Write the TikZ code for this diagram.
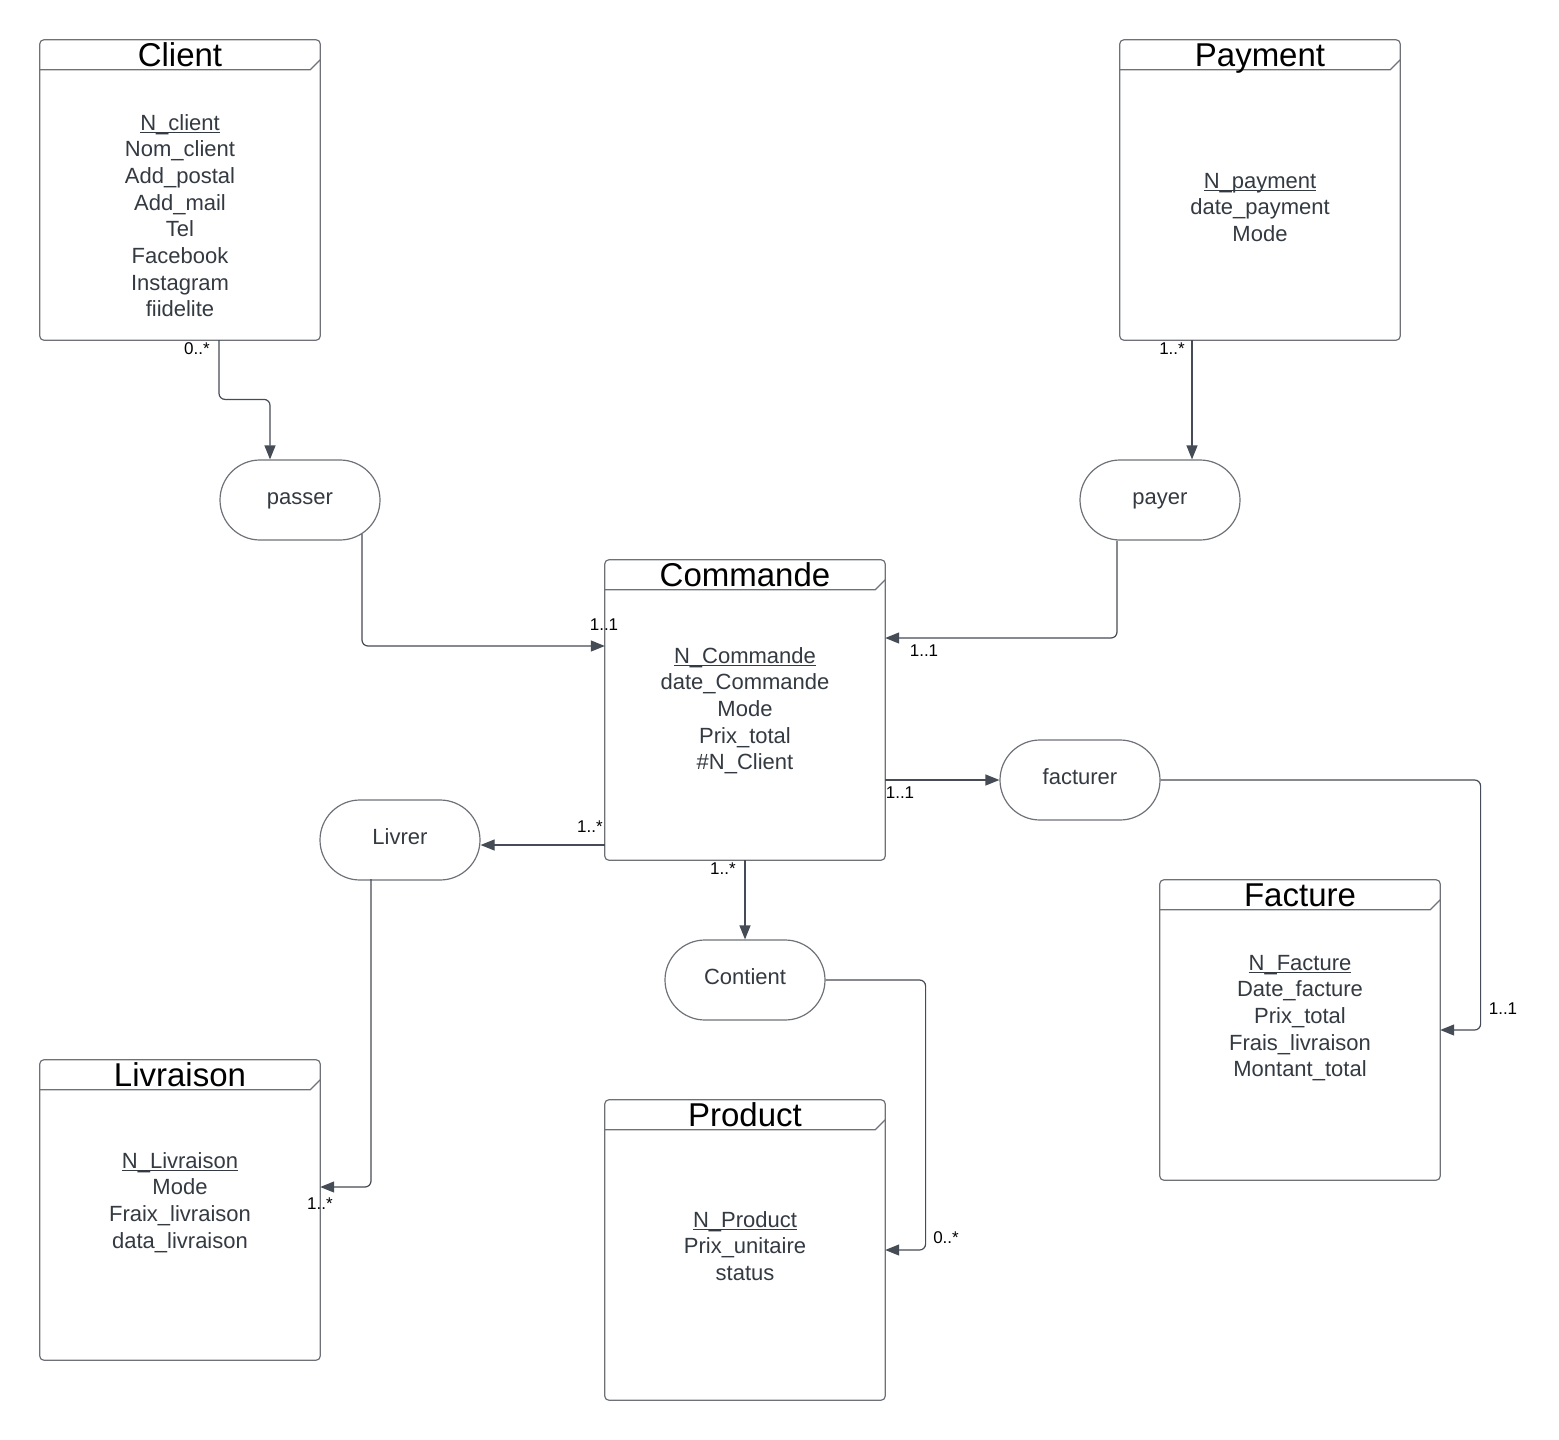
\documentclass[tikz,border=0pt]{standalone}
\usepackage{fontspec}
\setmainfont{Liberation Sans}
\usetikzlibrary{arrows.meta,calc}
\definecolor{edge}{RGB}{110,114,120}
\definecolor{wire}{RGB}{70,76,86}
\definecolor{ink}{RGB}{52,58,66}

% key attribute: underline sitting just under the baseline
\newcommand\ulkey[1]{\setbox0\hbox{#1}\rlap{\rule[-2.4pt]{\wd0}{1.1pt}}\box0}

\tikzset{
  ebox/.style={minimum width=280pt, minimum height=300pt, inner sep=0pt, draw=none},
  outline/.style={draw=edge, line width=1.2pt},
  etitle/.style={font=\fontsize{33}{36}\selectfont, text=black, anchor=base, inner sep=0pt},
  eattr/.style={font=\fontsize{22}{26}\selectfont, text=ink, anchor=base, inner sep=0pt},
  rel/.style={draw=edge, line width=1.2pt, rounded corners=40pt, minimum width=160pt,
    minimum height=80pt, inner sep=0pt, font=\fontsize{22}{26}\selectfont, text=ink,
    text height=16pt, text depth=8pt},
  conn/.style={draw=wire, line width=1.2pt, rounded corners=6pt, -{Triangle[length=14pt,width=11pt]}},
  card/.style={font=\fontsize{17}{19}\selectfont, text=black, inner sep=0pt},
}

% entity: name, left x, top y, title, first baseline offset, attribute lines
\newcommand\erentity[6]{%
  \node[ebox] (#1) at (#2+140,#3+150) {};
  \draw[outline, rounded corners=4pt] (#1.south west) -- (#1.north west) -- (#1.north east) -- (#1.south east) -- cycle;
  \draw[outline] ([yshift=-30pt]#1.north west) -- ([xshift=-10pt,yshift=-30pt]#1.north east) -- ([yshift=-20pt]#1.north east);
  \node[etitle] (#1-title) at ($(#1.north)+(0,27)$) {#4};
  \foreach \txt [count=\k from 0] in {#6}
    \node[eattr] (#1-a\k) at ($(#1.north)+(0,#5+2.5+26.65*\k)$) {\txt};
}

\begin{document}
\begin{tikzpicture}[x=1pt,y=-1pt]
\fill[white] (0,0) rectangle (1559,1440);
\useasboundingbox (0,0) rectangle (1559,1440);

% entities
\erentity{client}{40}{40}{Client}{88}{\ulkey{N\_client},Nom\_client,Add\_postal,Add\_mail,Tel,Facebook,Instagram,fiidelite}
\erentity{payment}{1120}{40}{Payment}{146}{\ulkey{N\_payment},date\_payment,Mode}
\erentity{commande}{605}{560}{Commande}{101}{\ulkey{N\_Commande},date\_Commande,Mode,Prix\_total,\#N\_Client}
\erentity{facture}{1160}{880}{Facture}{88}{\ulkey{N\_Facture},Date\_facture,Prix\_total,Frais\_livraison,Montant\_total}
\erentity{livraison}{40}{1060}{Livraison}{106}{\ulkey{N\_Livraison},Mode,Fraix\_livraison,data\_livraison}
\erentity{product}{605}{1100}{Product}{125}{\ulkey{N\_Product},Prix\_unitaire,status}

% associations
\node[rel] (passer) at (300,500) {passer};
\node[rel] (payer) at (1160,500) {payer};
\node[rel] (facturer) at (1080,780) {facturer};
\node[rel] (livrer) at (400,840) {Livrer};
\node[rel] (contient) at (745,980) {Contient};

% connectors
\draw[conn] ([xshift=39pt]client.south) |- ([xshift=-30pt,yshift=60pt]passer.north) -- ([xshift=-30pt]passer.north);
\draw[conn] ([xshift=62pt,yshift=6.6pt]passer.south) |- ([yshift=64pt]commande.west);
\draw[conn] ([xshift=-68pt]payment.south) -- ([xshift=32pt]payer.north);
\draw[conn] ([xshift=-43pt]payer.south) |- ([yshift=72pt]commande.east);
\draw[conn] ([yshift=-70pt]commande.east) -- (facturer.west);
\draw[conn] (facturer.east) -- ++(320,0) |- (facture.east);
\draw[conn] ([yshift=-135pt]commande.west) -- ([yshift=-5pt]livrer.east);
\draw[conn] ([xshift=-29pt,yshift=1.5pt]livrer.south) |- ([yshift=23pt]livraison.east);
\draw[conn] (commande.south) -- (contient.north);
\draw[conn] (contient.east) -- ++(100,0) |- (product.east);

% cardinalities
\node[card] (k1) at (197,349) {0..*};
\node[card] (k2) at (604,625) {1..1};
\node[card] (k3) at (1172,349) {1..*};
\node[card] (k4) at (924,651) {1..1};
\node[card] (k5) at (900,793) {1..1};
\node[card] (k6) at (1503,1009) {1..1};
\node[card] (k7) at (590,827) {1..*};
\node[card] (k8) at (320,1204) {1..*};
\node[card] (k9) at (723,869) {1..*};
\node[card] (k10) at (946,1238) {0..*};
\end{tikzpicture}
\end{document}
